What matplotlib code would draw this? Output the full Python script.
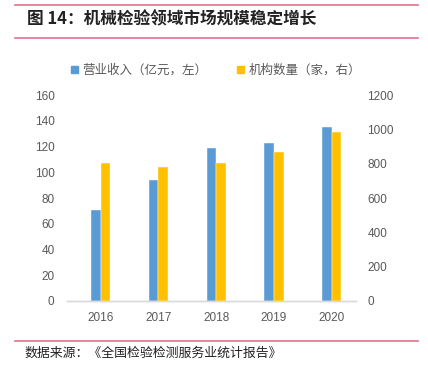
import matplotlib
matplotlib.use("Agg")
import matplotlib.pyplot as plt
from matplotlib.lines import Line2D
from matplotlib.patches import Patch
import numpy as np

plt.rcParams['font.family'] = ['Noto Sans CJK SC', 'DejaVu Sans']

years = ['2016', '2017', '2018', '2019', '2020']
revenue = [71, 94, 119, 123, 135]        # 营业收入（亿元）, left axis
institutions = [804, 780, 804, 868, 985]  # 机构数量（家）, right axis

blue = '#5B9BD5'
yellow = '#FFC000'
pink = '#E4708A'
grey = '#595959'

fig = plt.figure(figsize=(4.28, 3.70), dpi=100)
ax = fig.add_axes([0.1565, 0.1865, 0.6755, 0.5565])
ax2 = ax.twinx()

x = np.arange(len(years))
w = 0.166
ax.bar(x - w / 2, revenue, w, color=blue, edgecolor='white', linewidth=0.3, zorder=3)
ax2.bar(x + w / 2, institutions, w, color=yellow, edgecolor='white', linewidth=0.3, zorder=3)

ax.set_xlim(-0.58, 4.42)
ax.set_ylim(0, 160)
ax.set_yticks(range(0, 161, 20))
ax2.set_ylim(0, 1200)
ax2.set_yticks(range(0, 1201, 200))
ax.set_xticks(x)
ax.set_xticklabels(years)

tick_font = dict(family=['Liberation Sans', 'DejaVu Sans'], size=8.5)
for a in (ax, ax2):
    for s in ('top', 'left', 'right'):
        a.spines[s].set_visible(False)
    a.spines['bottom'].set_color('#D9D9D9')
    a.spines['bottom'].set_linewidth(1.0)
    a.tick_params(length=0, colors=grey)
    for lab in a.get_xticklabels() + a.get_yticklabels():
        lab.set_fontproperties(tick_font)
ax.tick_params(axis='y', pad=9)
ax2.tick_params(axis='y', pad=8)
ax.tick_params(axis='x', pad=8)

handles = [Patch(color=blue, label='营业收入（亿元，左）'),
           Patch(color=yellow, label='机构数量（家，右）')]
leg = fig.legend(handles=handles, loc='center', bbox_to_anchor=(0.505, 0.81), ncol=2,
                 frameon=False, fontsize=9, handlelength=0.55, handleheight=0.55,
                 handletextpad=0.35, columnspacing=2.4)
for t in leg.get_texts():
    t.set_color(grey)

# header / footer
fig.text(0.063, 0.947, '图 14：机械检验领域市场规模稳定增长', fontsize=12, fontweight='bold',
         va='center', ha='left', color='#222222')
for yy in (0.986, 0.897, 0.078):
    fig.add_artist(Line2D([0.035, 0.977], [yy, yy], color=pink, linewidth=1.2))
fig.text(0.058, 0.045, '数据来源：《全国检验检测服务业统计报告》', fontsize=9.3,
         va='center', ha='left', color='#222222')

fig.savefig('out.png', dpi=100)
